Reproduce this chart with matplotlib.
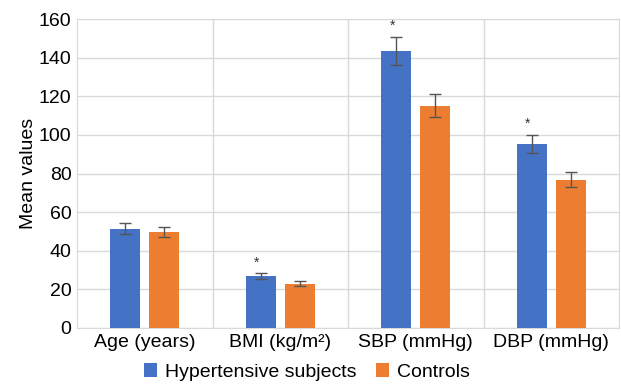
import matplotlib.pyplot as plt
import numpy as np

categories = ['Age (years)', 'BMI (kg/m²)', 'SBP (mmHg)', 'DBP (mmHg)']
hyper = [51.5, 27, 143.5, 95.3]
hyper_err = [2.7, 1.5, 7.3, 4.8]
controls = [49.7, 23, 115.2, 76.7]
controls_err = [2.6, 1.3, 5.8, 3.9]
significant = [False, True, True, True]

plt.rcParams['font.family'] = ['Liberation Sans', 'DejaVu Sans']

fig = plt.figure(figsize=(6.21, 3.88), dpi=100)
ax = fig.add_axes([77/621, 1-328/388, 542/621, 309/388])

x = np.arange(len(categories))
w = 0.22
off = 0.144
grid_c = '#d9d9d9'
ax.bar(x - off, hyper, w, color='#4472C4', label='Hypertensive subjects', zorder=3)
ax.bar(x + off, controls, w, color='#ED7D31', label='Controls', zorder=3)
ax.errorbar(x - off, hyper, yerr=hyper_err, fmt='none', ecolor='#555555',
            elinewidth=1, capsize=4, capthick=1, zorder=4)
ax.errorbar(x + off, controls, yerr=controls_err, fmt='none', ecolor='#555555',
            elinewidth=1, capsize=4, capthick=1, zorder=4)
for i, s in enumerate(significant):
    if s:
        ax.text(x[i] - off - 0.03, hyper[i] + hyper_err[i] + 5.5, '*',
                ha='center', va='center', fontsize=10, color='#333333')

ax.set_xlim(-0.5, len(categories) - 0.5)
ax.set_ylim(0, 160)
ax.set_yticks(range(0, 161, 20))
ax.set_xticks(x)
ax.set_xticklabels(categories)
for b in np.arange(0.5, len(categories) - 0.5, 1):
    ax.axvline(b, color=grid_c, lw=1, zorder=0)
ax.yaxis.grid(True, color=grid_c, lw=1, zorder=0)
for sp in ax.spines.values():
    sp.set_color(grid_c)
ax.tick_params(length=0, labelsize=14, pad=4)
ax.set_ylabel('Mean values', fontsize=14, labelpad=1)

ax.legend(loc='center', bbox_to_anchor=(0.424, -0.142), ncol=2, frameon=False,
          fontsize=14, handlelength=0.7, handleheight=0.7, handletextpad=0.4,
          columnspacing=1.0, borderaxespad=0, borderpad=0)

fig.savefig('out.png', dpi=100)
